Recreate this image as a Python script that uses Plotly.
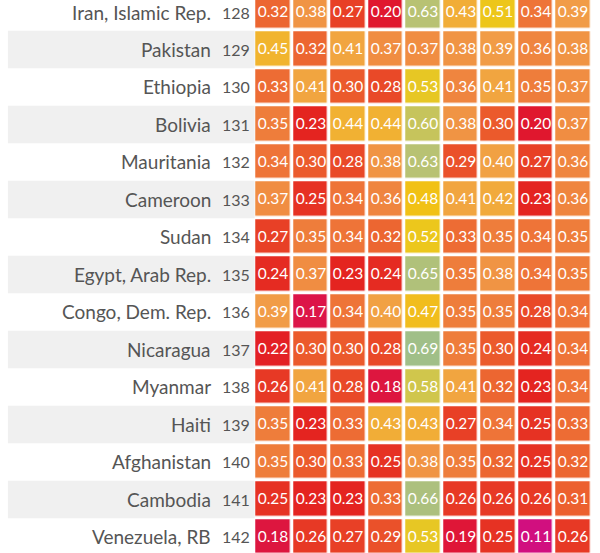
import plotly.graph_objects as go

countries = ["Iran, Islamic Rep.", "Pakistan", "Ethiopia", "Bolivia", "Mauritania",
             "Cameroon", "Sudan", "Egypt, Arab Rep.", "Congo, Dem. Rep.", "Nicaragua",
             "Myanmar", "Haiti", "Afghanistan", "Cambodia", "Venezuela, RB"]
ranks = [128, 129, 130, 131, 132, 133, 134, 135, 136, 137, 138, 139, 140, 141, 142]

# one row per country, 9 indicator columns
scores = [
    [0.32, 0.38, 0.27, 0.20, 0.63, 0.43, 0.51, 0.34, 0.39],
    [0.45, 0.32, 0.41, 0.37, 0.37, 0.38, 0.39, 0.36, 0.38],
    [0.33, 0.41, 0.30, 0.28, 0.53, 0.36, 0.41, 0.35, 0.37],
    [0.35, 0.23, 0.44, 0.44, 0.60, 0.38, 0.30, 0.20, 0.37],
    [0.34, 0.30, 0.28, 0.38, 0.63, 0.29, 0.40, 0.27, 0.36],
    [0.37, 0.25, 0.34, 0.36, 0.48, 0.41, 0.42, 0.23, 0.36],
    [0.27, 0.35, 0.34, 0.32, 0.52, 0.33, 0.35, 0.34, 0.35],
    [0.24, 0.37, 0.23, 0.24, 0.65, 0.35, 0.38, 0.34, 0.35],
    [0.39, 0.17, 0.34, 0.40, 0.47, 0.35, 0.35, 0.28, 0.34],
    [0.22, 0.30, 0.30, 0.28, 0.69, 0.35, 0.30, 0.24, 0.34],
    [0.26, 0.41, 0.28, 0.18, 0.58, 0.41, 0.32, 0.23, 0.34],
    [0.35, 0.23, 0.33, 0.43, 0.43, 0.27, 0.34, 0.25, 0.33],
    [0.35, 0.30, 0.33, 0.25, 0.38, 0.35, 0.32, 0.25, 0.32],
    [0.25, 0.23, 0.23, 0.33, 0.66, 0.26, 0.26, 0.26, 0.31],
    [0.18, 0.26, 0.27, 0.29, 0.53, 0.19, 0.25, 0.11, 0.26],
]

ZMIN, ZMAX = 0.10, 0.70
stops = [
    (0.10, "#cf0e88"), (0.17, "#dc1548"), (0.20, "#e0172e"), (0.23, "#e42420"),
    (0.27, "#e84026"), (0.30, "#eb5a2c"), (0.33, "#ed6c34"), (0.36, "#ef853f"),
    (0.39, "#f19c47"), (0.42, "#f1aa3c"), (0.45, "#f1b42e"), (0.48, "#f1c115"),
    (0.52, "#ecc71c"), (0.58, "#d0c64c"), (0.63, "#b8c273"), (0.70, "#9cbe8c"),
]
colorscale = [[(v - ZMIN) / (ZMAX - ZMIN), c] for v, c in stops]

rows = list(range(len(countries)))
cols = list(range(len(scores[0])))

fig = go.Figure()

fig.add_trace(go.Heatmap(
    z=scores, x=cols, y=rows,
    zmin=ZMIN, zmax=ZMAX, colorscale=colorscale, showscale=False,
    xgap=3.5, ygap=3.5,
    texttemplate="%{z:.2f}",
    textfont=dict(family="Lato", size=15.5, color="white"),
    hoverinfo="skip",
))

# country names and ranks, right-aligned left of the grid
for i, (name, rank) in enumerate(zip(countries, ranks)):
    fig.add_annotation(x=-1.6, y=i, text=name, showarrow=False,
                       xanchor="right", yanchor="middle",
                       font=dict(family="Lato", size=19, color="#555555"))
    fig.add_annotation(x=-0.56, y=i, text=str(rank), showarrow=False,
                       xanchor="right", yanchor="middle",
                       font=dict(family="Lato", size=16, color="#555555"))

# alternating row shading
for i in rows:
    if i % 2 == 1:
        fig.add_shape(type="rect", x0=-7.07, x1=-0.49, y0=i - 0.5, y1=i + 0.5,
                      fillcolor="#f0f0f0", line_width=0, layer="below")

fig.update_layout(
    width=600, height=553,
    margin=dict(l=0, r=0, t=0, b=0),
    paper_bgcolor="white", plot_bgcolor="white",
    showlegend=False,
    xaxis=dict(range=[-7.28, 8.72], visible=False, fixedrange=True),
    yaxis=dict(range=[14.43, -0.32], visible=False, fixedrange=True),
)

# drop the default page margin so the figure sits at the window corner
fig.write_html("out.html", config={"displayModeBar": False},
               post_script="document.body.style.margin = '0';")
